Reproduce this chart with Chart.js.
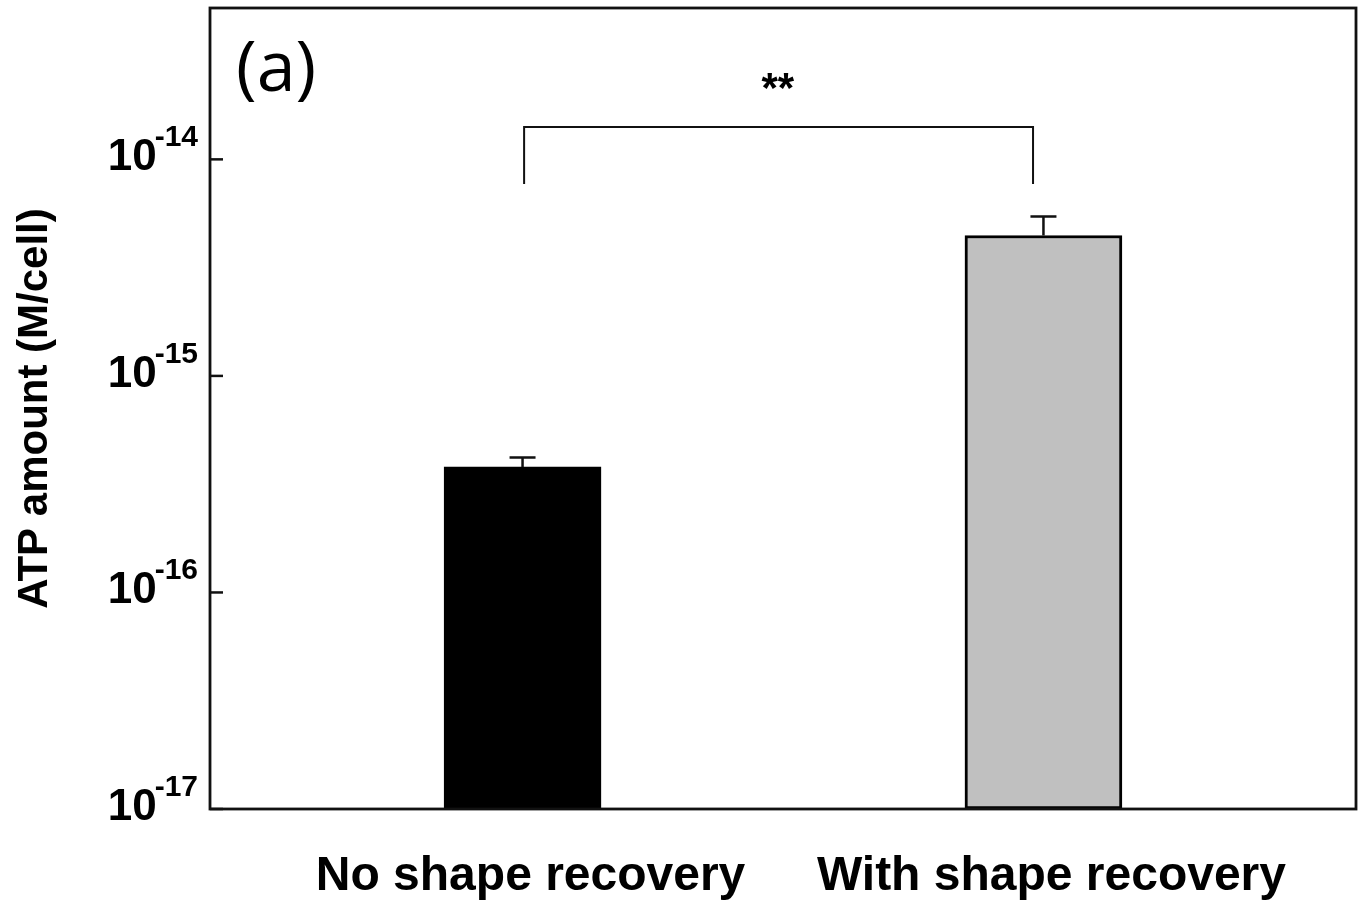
<!DOCTYPE html>
<html><head><meta charset="utf-8">
<script src="https://cdn.jsdelivr.net/npm/chart.js@4.4.1/dist/chart.umd.min.js"></script>
<style>html,body{margin:0;padding:0;background:#fff}#wrap{width:1365px;height:904px}</style>
</head><body><div id="wrap"><canvas id="c" width="1365" height="904"></canvas></div>
<script>
// ---- data ----
const categories = ['No shape recovery', 'With shape recovery'];
const xPositions = [1, 2];
const atpValues = [3.8e-16, 4.45e-15];
const atpErrors = [0.4e-16, 1.0e-15];
const barColors = ['#000000', '#c0c0c0'];
const yTickValues = [1e-17, 1e-16, 1e-15, 1e-14];
const yTickBase = '10';
const yTickExponents = ['-17', '-16', '-15', '-14'];
const bracketX = [1.003, 1.98];
const bracketY = [7.7e-15, 1.41e-14];
const starLabel = '**';
const starPos = [1.49, 1.85e-14];
const panelLabel = '(a)';

const overlay = {
  id: 'overlay',
  afterDraw(chart) {
    const ctx = chart.ctx, a = chart.chartArea;
    const xs = chart.scales.x, ys = chart.scales.y;
    ctx.save();
    ctx.strokeStyle = '#111';
    ctx.fillStyle = '#000';
    ctx.lineCap = 'butt';
    // frame
    ctx.lineWidth = 2.8;
    ctx.strokeRect(a.left, a.top, a.right - a.left, a.bottom - a.top);
    // inward ticks + labels
    ys.ticks.forEach((t, i) => {
      const py = ys.getPixelForValue(t.value);
      ctx.lineWidth = 2.5;
      ctx.beginPath(); ctx.moveTo(a.left, py); ctx.lineTo(a.left + 13, py); ctx.stroke();
      ctx.font = 'bold 30px "Liberation Sans", Arial, sans-serif';
      ctx.textAlign = 'right'; ctx.textBaseline = 'alphabetic';
      const supRight = a.left - 12;
      ctx.fillText(yTickExponents[i], supRight, py - 13);
      const supW = ctx.measureText(yTickExponents[i]).width;
      ctx.font = 'bold 44px "Liberation Sans", Arial, sans-serif';
      ctx.fillText(yTickBase, supRight - supW + 2, py + 11);
    });
    // error bars
    const meta = chart.getDatasetMeta(0);
    ctx.lineWidth = 2.5;
    meta.data.forEach((bar, i) => {
      const top = ys.getPixelForValue(atpValues[i] + atpErrors[i]);
      const base = ys.getPixelForValue(atpValues[i]);
      ctx.beginPath();
      ctx.moveTo(bar.x, base); ctx.lineTo(bar.x, top);
      ctx.moveTo(bar.x - 13, top); ctx.lineTo(bar.x + 13, top);
      ctx.stroke();
    });
    // significance bracket
    const bx0 = xs.getPixelForValue(bracketX[0]), bx1 = xs.getPixelForValue(bracketX[1]);
    const by0 = ys.getPixelForValue(bracketY[0]), by1 = ys.getPixelForValue(bracketY[1]);
    ctx.lineWidth = 2;
    ctx.beginPath();
    ctx.moveTo(bx0, by0); ctx.lineTo(bx0, by1); ctx.lineTo(bx1, by1); ctx.lineTo(bx1, by0);
    ctx.stroke();
    ctx.font = 'bold 42px "Liberation Sans", Arial, sans-serif';
    ctx.textAlign = 'center'; ctx.textBaseline = 'alphabetic';
    ctx.fillText(starLabel, xs.getPixelForValue(starPos[0]), ys.getPixelForValue(starPos[1]));
    // panel label
    ctx.font = '70px "Open Sans", sans-serif';
    ctx.textAlign = 'left';
    ctx.fillText(panelLabel, a.left + 26, a.top + 83);
    ctx.restore();
  }
};

new Chart(document.getElementById('c'), {
  type: 'bar',
  data: {
    datasets: [{
      data: xPositions.map((x, i) => ({ x: x, y: atpValues[i] })),
      backgroundColor: barColors,
      borderColor: '#000',
      borderWidth: 3,
      borderSkipped: false,
      barThickness: 157
    }]
  },
  options: {
    responsive: false,
    animation: false,
    layout: { padding: { top: 8, right: 9, left: 0, bottom: 0 } },
    plugins: { legend: { display: false }, tooltip: { enabled: false } },
    scales: {
      x: {
        type: 'linear', min: 0.4, max: 2.6, offset: false,
        grid: { display: false, drawTicks: false }, border: { display: false },
        afterBuildTicks: s => { s.ticks = xPositions.map(v => ({ value: v })); },
        ticks: {
          callback: v => categories[xPositions.indexOf(v)],
          font: { family: '"Liberation Sans", Arial, sans-serif', size: 48, weight: 'bold' },
          color: '#000', padding: 39, maxRotation: 0, autoSkip: false, labelOffset: 8
        },
        afterFit: s => { s.height = 95; }
      },
      y: {
        type: 'logarithmic', min: 1e-17, max: 5e-14,
        grid: { display: false, drawTicks: false }, border: { display: false },
        afterBuildTicks: s => { s.ticks = yTickValues.map(v => ({ value: v })); },
        ticks: { display: false },
        title: {
          display: true, text: 'ATP amount (M/cell)', color: '#000',
          font: { family: '"Liberation Sans", Arial, sans-serif', size: 42, weight: 'bold' },
          padding: { top: 10, bottom: 0 }
        },
        afterFit: s => { s.width = 210; }
      }
    }
  },
  plugins: [overlay]
});
</script>
</body></html>
